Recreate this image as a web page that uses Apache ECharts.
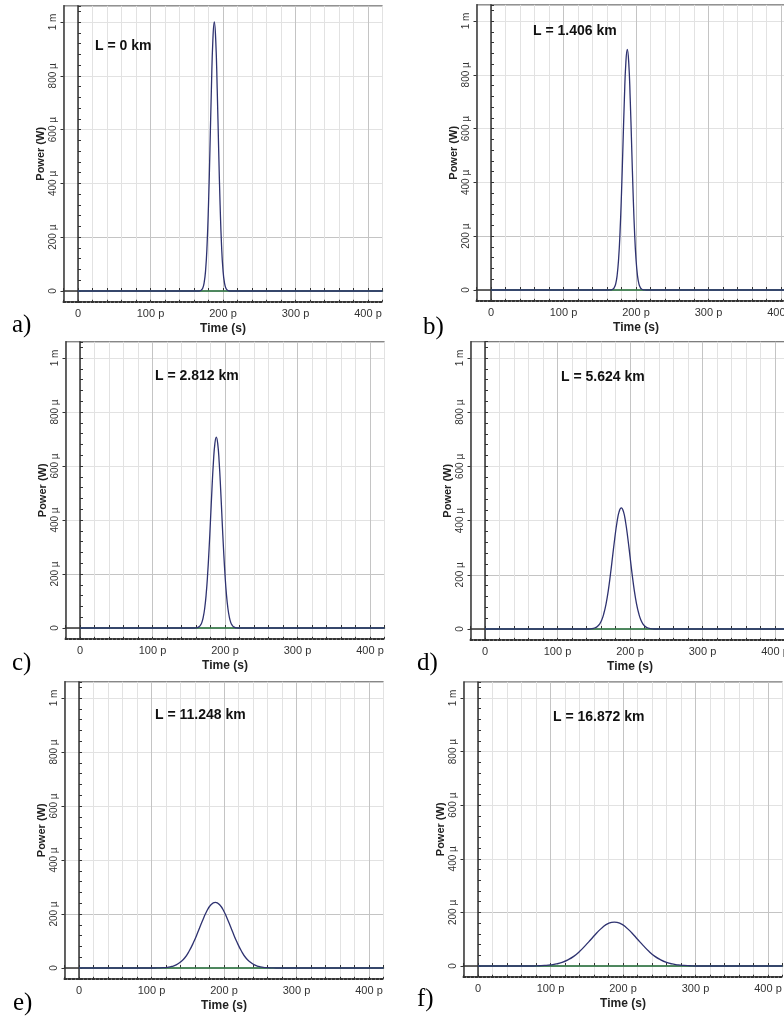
<!DOCTYPE html>
<html><head><meta charset="utf-8">
<script src="https://cdn.jsdelivr.net/npm/echarts@6/dist/echarts.min.js"></script>
<style>html,body{margin:0;padding:0;background:#fff}#c{width:784px;height:1018px}</style>
</head><body><div id="c"></div>
<script>
// ---- data (time in ps, power in µW) ----
const panelLetters = ['a)', 'b)', 'c)', 'd)', 'e)', 'f)'];
const distanceLabels = ['L = 0 km', 'L = 1.406 km', 'L = 2.812 km', 'L = 5.624 km', 'L = 11.248 km', 'L = 16.872 km'];

const timeA = [166,168,170,172,174,176,178,180,182,184,186,188,190,192,194,196,198,200,202,204,206,208,210];
const powerA = [0,0.8,3.2,10.6,31,77,169,321,527,752,931,1000,931,752,527,321,169,77,31,10.6,3.2,0.8,0];

const timeB = [162,164,166,168,170,172,174,176,178,180,182,184,186,188,190,192,194,196,198,200,202,204,206,208,210,212,214];
const powerB = [0,0.2,0.9,3.0,8.9,23,55,115,216,360,536,712,845,894,845,712,536,360,216,115,55,23,8.9,3.0,0.9,0.2,0];

const timeC = [158,160,162,164,166,168,170,172,174,176,178,180,182,184,186,188,190,192,194,196,198,200,202,204,206,208,210,212,214,216,218];
const powerC = [0,0.7,1.7,4.2,9.6,20,40,73,124,197,291,400,514,613,682,707,682,613,514,400,291,197,124,73,40,20,9.6,4.2,1.7,0.7,0];

const timeD = [143,146,149,152,155,158,161,164,167,170,173,176,179,182,185,188,191,194,197,200,203,206,209,212,215,218,221,224,227,230,233];
const powerD = [0,0.8,2.0,4.5,9.3,18,33,58,93,141,201,268,335,393,433,447,433,393,335,268,201,141,93,58,33,18,9.3,4.5,2.0,0.8,0];

const timeE = [104,110,116,122,128,134,140,146,152,158,164,170,176,182,188,194,200,206,212,218,224,230,236,242,248,254,260,266,272];
const powerE = [0,0.4,1.1,2.6,5.6,11.5,22,38,63,95,133,173,209,234,243,234,209,173,133,95,63,38,22,11.5,5.6,2.6,1.1,0.4,0];

const timeF = [76,84,92,100,108,116,124,132,140,148,156,164,172,180,188,196,204,212,220,228,236,244,252,260,268,276,284,292,300];
const powerF = [0,0.9,2.0,4.0,7.6,13.6,23,36,54,76,100,124,145,159,164,159,145,124,100,76,54,36,23,13.6,7.6,4.0,2.0,0.9,0];

const timeSeries = [timeA, timeB, timeC, timeD, timeE, timeF];
const powerSeries = [powerA, powerB, powerC, powerD, powerE, powerF];

const xTickValues = [0, 100, 200, 300, 400];
const xTickLabels = ['0', '100 p', '200 p', '300 p', '400 p'];
const yTickValues = [0, 200, 400, 600, 800, 1000];
const yTickLabels = ['0', '200 µ', '400 µ', '600 µ', '800 µ', '1 m'];

const X_MIN = -20, X_MAX = 420, Y_MIN = -40, Y_MAX = 1060;

// ---- layout (pixel placement of each panel) ----
const XS = 0.725;
const layout = [
  {x0: 78,  y0: 291, y1m: 22,  lx: 12,  ly: 325, tx: 95,  ty: 46},
  {x0: 491, y0: 290, y1m: 21,  lx: 423, ly: 327, tx: 533, ty: 31},
  {x0: 80,  y0: 628, y1m: 358, lx: 12,  ly: 663, tx: 155, ty: 376},
  {x0: 485, y0: 629, y1m: 358, lx: 417, ly: 663, tx: 561, ty: 377},
  {x0: 79,  y0: 968, y1m: 698, lx: 13,  ly: 1003, tx: 155, ty: 715},
  {x0: 478, y0: 966, y1m: 698, lx: 417, ly: 999, tx: 553, ty: 717}
];

const MINOR = '#e2e2e2', MAJOR = '#c4c4c4';
const gridColors = [MINOR, MAJOR, MINOR, MINOR, MINOR];
const FONT = '"Liberation Sans", Arial, sans-serif';

const grids = [], xAxes = [], yAxes = [], series = [], graphics = [];
layout.forEach((p, i) => {
  const s = (p.y0 - p.y1m) / 1000;
  grids.push({
    left: p.x0 - (0 - X_MIN) * XS, width: (X_MAX - X_MIN) * XS,
    top: p.y1m - (Y_MAX - 1000) * s, height: (Y_MAX - Y_MIN) * s,
    show: true, borderColor: '#555', borderWidth: 1, backgroundColor: '#fff',
    containLabel: false, outerBoundsMode: 'none'
  });
  xAxes.push({
    gridIndex: i, type: 'value', min: X_MIN, max: X_MAX, interval: 20, position: 'bottom',
    axisLine: {onZero: false, lineStyle: {color: '#333', width: 2, type: 'dotted'}},
    axisTick: {show: true, inside: true, length: 2, lineStyle: {color: '#333'}},
    axisLabel: {
      show: true, margin: 7, fontSize: 11, fontFamily: FONT, color: '#333',
      formatter: v => { const k = xTickValues.indexOf(v); return k >= 0 ? xTickLabels[k] : ''; }
    },
    splitLine: {show: true, lineStyle: {color: gridColors, width: 1}},
    name: 'Time (s)', nameLocation: 'middle', nameGap: 21, nameMoveOverlap: false,
    nameTextStyle: {fontSize: 12, fontWeight: 'bold', fontFamily: FONT, color: '#222'}
  });
  xAxes.push({
    gridIndex: i, type: 'value', min: X_MIN, max: X_MAX, interval: 20, position: 'top',
    axisLine: {onZero: true, lineStyle: {color: '#333', width: 1.5}},
    axisTick: {show: true, length: 3, lineStyle: {color: '#333'}},
    axisLabel: {show: false}, splitLine: {show: false}
  });
  yAxes.push({
    gridIndex: i, type: 'value', min: Y_MIN, max: Y_MAX, interval: 40, position: 'left',
    axisLine: {onZero: false, lineStyle: {color: '#333', width: 1.5}},
    axisTick: {show: true, length: 3, customValues: yTickValues, lineStyle: {color: '#333'}},
    axisLabel: {
      show: true, rotate: 90, margin: 5, fontSize: 10, fontFamily: FONT, color: '#333',
      formatter: v => { const k = yTickValues.indexOf(v); return k >= 0 ? yTickLabels[k] : ''; }
    },
    splitLine: {show: true, lineStyle: {color: gridColors, width: 1}},
    name: 'Power (W)', nameLocation: 'middle', nameGap: 17, nameMoveOverlap: false,
    nameTextStyle: {fontSize: 11, fontWeight: 'bold', fontFamily: FONT, color: '#222'}
  });
  yAxes.push({
    gridIndex: i, type: 'value', min: Y_MIN, max: Y_MAX, interval: 40, position: 'right',
    axisLine: {onZero: true, lineStyle: {color: '#333', width: 1.5}},
    axisTick: {show: true, length: 3, lineStyle: {color: '#333'}},
    axisLabel: {show: false}, splitLine: {show: false}
  });
  series.push({
    type: 'line', xAxisIndex: 2 * i, yAxisIndex: 2 * i, silent: true, symbol: 'none', z: 2,
    lineStyle: {color: '#3cae5c', width: 1}, data: [[0, 0], [X_MAX, 0]]
  });
  const pts = [[0, 0]].concat(timeSeries[i].map((t, k) => [t, powerSeries[i][k]])).concat([[X_MAX, 0]]);
  series.push({
    type: 'line', xAxisIndex: 2 * i, yAxisIndex: 2 * i, silent: true, symbol: 'none', z: 3,
    smooth: true, lineStyle: {color: '#2e3270', width: 1.3}, data: pts
  });
  graphics.push({
    type: 'text', x: p.tx, y: p.ty, z: 10,
    style: {text: distanceLabels[i], font: 'bold 14px ' + FONT, fill: '#111', align: 'left', verticalAlign: 'middle'}
  });
  graphics.push({
    type: 'text', x: p.lx, y: p.ly, z: 10,
    style: {text: panelLetters[i], font: '25px "Liberation Serif", "Times New Roman", serif', fill: '#000', align: 'left', verticalAlign: 'middle'}
  });
});

const chart = echarts.init(document.getElementById('c'), null, {renderer: 'canvas'});
chart.setOption({
  backgroundColor: '#fff', animation: false,
  grid: grids, xAxis: xAxes, yAxis: yAxes, series: series, graphic: graphics
});
</script></body></html>
